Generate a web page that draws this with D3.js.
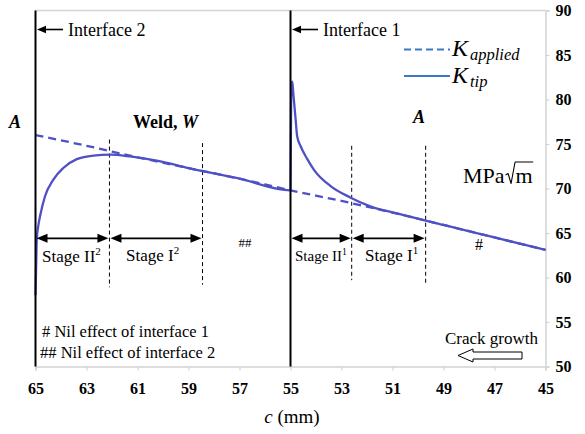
<!DOCTYPE html>
<html>
<head>
<meta charset="utf-8">
<script src="https://cdn.jsdelivr.net/npm/d3@7/dist/d3.min.js"></script>
<style>
  html, body { margin: 0; padding: 0; background: #fff; }
  svg { display: block; }
  text { font-family: "Liberation Serif", "Times New Roman", serif; fill: #000; }
</style>
</head>
<body>
<svg id="chart" width="585" height="434"></svg>
<script>
// Crack position c (mm) and stress intensity factors (MPa√m)
const appliedC = [65, 63, 61, 59, 57, 55, 53, 51, 49, 47, 45];
const appliedK = [76.0, 74.8, 73.5, 72.3, 71.1, 69.8, 68.6, 67.3, 65.9, 64.5, 63.1];

const tipC = [65.0, 64.97, 64.95, 64.88, 64.82, 64.63, 64.30, 63.91, 63.38, 62.73, 62.07, 61.29, 60.19, 59, 57, 55.0,
              54.97, 54.93, 54.89, 54.80, 54.74, 54.61, 54.34, 54.08, 53.44, 52.66, 51.87, 50.82, 49, 47, 45];
const tipK = [58.0, 62.0, 64.3, 66.0, 66.9, 69.1, 71.0, 72.3, 73.3, 73.7, 73.8, 73.6, 73.1, 72.3, 71.1, 69.8,
              81.6, 82.0, 80.7, 77.8, 75.9, 74.8, 73.3, 72.1, 70.3, 69.0, 68.0, 67.2, 65.9, 64.5, 63.1];

const xTicks = [65, 63, 61, 59, 57, 55, 53, 51, 49, 47, 45];
const yTicks = [50, 55, 60, 65, 70, 75, 80, 85, 90];

// Interfaces and stage boundaries along c
const interfaces = [{c: 65, label: "Interface 2"}, {c: 55, label: "Interface 1"}];
const stages2 = [65, 62.1, 58.45];
const stages1 = [55, 52.6, 49.7];

const svg = d3.select("#chart");
const x = d3.scaleLinear().domain([65, 45]).range([35.5, 545.5]);
const y = d3.scaleLinear().domain([50, 90]).range([366.5, 10.5]);
const grey = "#d4d4d4";
const curveColor = "#5050c6";
const legendColor = "#3b78c6";

// frame: top border, axes
svg.append("line").attr("x1", x(65)).attr("x2", x(45)).attr("y1", y(90)).attr("y2", y(90))
  .attr("stroke", grey).attr("stroke-width", 1.5);

const xAxis = svg.append("g").attr("transform", `translate(0,${y(50)})`)
  .call(d3.axisBottom(x).tickValues(xTicks).tickSize(4).tickPadding(12).tickFormat(d3.format("d")));
const yAxis = svg.append("g").attr("transform", `translate(${x(45)},0)`)
  .call(d3.axisRight(y).tickValues(yTicks).tickSize(4).tickPadding(6).tickFormat(d3.format("d")));
[xAxis, yAxis].forEach(g => {
  g.select(".domain").attr("stroke", grey).attr("stroke-width", 1.5);
  g.selectAll(".tick line").attr("stroke", grey).attr("stroke-width", 1.2);
  g.selectAll(".tick text").attr("font-family", "'Liberation Serif', serif")
    .attr("font-size", 16).attr("font-weight", "bold").attr("fill", "#333");
});

// stage boundary dashed markers
const stageMarks = [
  {c: stages2[1], top: 75.5, bottom: 58.9},
  {c: stages2[2], top: 75.1, bottom: 59.2},
  {c: stages1[1], top: 74.8, bottom: 59.7},
  {c: stages1[2], top: 74.8, bottom: 59.2}
];
svg.selectAll(".stage-mark").data(stageMarks).join("line")
  .attr("x1", d => x(d.c)).attr("x2", d => x(d.c))
  .attr("y1", d => y(d.top)).attr("y2", d => y(d.bottom))
  .attr("stroke", "#000").attr("stroke-width", 1).attr("stroke-dasharray", "4,3");

// curves
const appliedLine = d3.line().x((d, i) => x(appliedC[i])).y(d => y(d)).curve(d3.curveMonotoneX);
const tipLine = d3.line().x((d, i) => x(tipC[i])).y(d => y(d)).curve(d3.curveMonotoneX);

svg.append("path").attr("d", appliedLine(appliedK)).attr("fill", "none")
  .attr("stroke", curveColor).attr("stroke-width", 2.3).attr("stroke-dasharray", "8,5");
svg.append("path").attr("d", tipLine(tipK)).attr("fill", "none")
  .attr("stroke", curveColor).attr("stroke-width", 2.3).attr("stroke-linejoin", "round");

// interface lines
svg.selectAll(".iface").data(interfaces).join("line")
  .attr("x1", d => x(d.c)).attr("x2", d => x(d.c)).attr("y1", y(90)).attr("y2", y(50))
  .attr("stroke", "#000").attr("stroke-width", 2);

// arrowhead helper (tip at (tx,ty), pointing in direction dir = -1 left / +1 right)
function head(g, tx, ty, dir, len, half) {
  g.append("path")
    .attr("d", `M${tx},${ty} L${tx - dir * len},${ty - half} L${tx - dir * len},${ty + half} Z`)
    .attr("fill", "#000");
}

// interface labels with arrows
interfaces.forEach(d => {
  const x0 = x(d.c) + 1.5;
  svg.append("line").attr("x1", x0 + 6).attr("x2", x0 + 26).attr("y1", 29.5).attr("y2", 29.5)
    .attr("stroke", "#000").attr("stroke-width", 1.6);
  head(svg, x0, 29.5, -1, 9, 3.8);
  svg.append("text").attr("x", x0 + 31).attr("y", 36).attr("font-size", 18).text(d.label);
});

// stage double arrows
const arrowY = y(64.4);
function doubleArrow(c1, c2) {
  const a = x(c1) + 1, b = x(c2) - 1;
  svg.append("line").attr("x1", a + 6).attr("x2", b - 6).attr("y1", arrowY).attr("y2", arrowY)
    .attr("stroke", "#000").attr("stroke-width", 1.6);
  head(svg, a, arrowY, -1, 11, 4.5);
  head(svg, b, arrowY, 1, 11, 4.5);
}
doubleArrow(stages2[0], stages2[1]);
doubleArrow(stages2[1], stages2[2]);
doubleArrow(stages1[0], stages1[1]);
doubleArrow(stages1[1], stages1[2]);

function stageLabel(xp, yp, size, main, sup) {
  const t = svg.append("text").attr("x", xp).attr("y", yp).attr("font-size", size);
  t.append("tspan").text(main);
  t.append("tspan").attr("font-size", size * 0.65).attr("dy", -size * 0.42).text(sup);
}
stageLabel(42, 262, 17, "Stage II", "2");
stageLabel(126, 261, 17, "Stage I", "2");
stageLabel(295, 261, 15, "Stage II", "1");
stageLabel(365, 261, 17, "Stage I", "1");

svg.append("text").attr("x", 245).attr("y", 247).attr("font-size", 13).attr("text-anchor", "middle").text("##");
svg.append("text").attr("x", 479).attr("y", 250).attr("font-size", 16).attr("text-anchor", "middle").text("#");

svg.append("text").attr("x", 42).attr("y", 337).attr("font-size", 16.5).text("# Nil effect of interface 1");
svg.append("text").attr("x", 40).attr("y", 358).attr("font-size", 16.5).text("## Nil effect of interface 2");

// region labels
svg.append("text").attr("x", 9).attr("y", 128).attr("font-size", 18)
  .attr("font-weight", "bold").attr("font-style", "italic").text("A");
svg.append("text").attr("x", 413).attr("y", 123).attr("font-size", 18)
  .attr("font-weight", "bold").attr("font-style", "italic").text("A");
const weld = svg.append("text").attr("x", 133).attr("y", 128).attr("font-size", 18).attr("font-weight", "bold");
weld.append("tspan").text("Weld, ");
weld.append("tspan").attr("font-style", "italic").text("W");

// legend
const legend = [
  {y: 49.5, dash: "7,4", sub: "applied", base: 56},
  {y: 76, dash: null, sub: "tip", base: 83}
];
legend.forEach(d => {
  svg.append("line").attr("x1", 404).attr("x2", 450).attr("y1", d.y).attr("y2", d.y)
    .attr("stroke", legendColor).attr("stroke-width", 2)
    .attr("stroke-dasharray", d.dash);
  const t = svg.append("text").attr("x", 452).attr("y", d.base).attr("font-style", "italic");
  t.append("tspan").attr("font-size", 24).text("K");
  t.append("tspan").attr("font-size", 16.5).attr("dy", 4).attr("dx", 2).text(d.sub);
});

// unit label MPa√m with a drawn radical sign
const unitX = 463, unitY = 183, unitSize = 22;
const mpa = svg.append("text").attr("x", unitX).attr("y", unitY).attr("font-size", unitSize).text("MPa");
const w1 = mpa.node().getComputedTextLength();
const r0 = unitX + w1 + 1;
const mX = r0 + 10;
const mm = svg.append("text").attr("x", mX).attr("y", unitY).attr("font-size", unitSize).text("m");
const w3 = mm.node().getComputedTextLength();
svg.append("path")
  .attr("d", `M${r0},${unitY - 8} L${r0 + 2.5},${unitY - 9.5} L${r0 + 5.5},${unitY + 0.5} L${r0 + 9.5},${unitY - 21} L${mX + w3 + 0.5},${unitY - 21}`)
  .attr("fill", "none").attr("stroke", "#000").attr("stroke-width", 1.1).attr("stroke-linejoin", "round");

// crack growth note with hollow arrow
svg.append("text").attr("x", 445).attr("y", 344).attr("font-size", 17).text("Crack growth");
const ay = 355.5;
svg.append("path")
  .attr("d", `M458,${ay} L473,${ay - 6.5} L473,${ay - 3.5} L522,${ay - 3.5} L522,${ay + 3.5} L473,${ay + 3.5} L473,${ay + 6.5} Z`)
  .attr("fill", "#fff").attr("stroke", "#000").attr("stroke-width", 1);

// x axis title
const xt = svg.append("text").attr("x", 292).attr("y", 423).attr("font-size", 19).attr("text-anchor", "middle");
xt.append("tspan").attr("font-style", "italic").text("c");
xt.append("tspan").text(" (mm)");
</script>
</body>
</html>
